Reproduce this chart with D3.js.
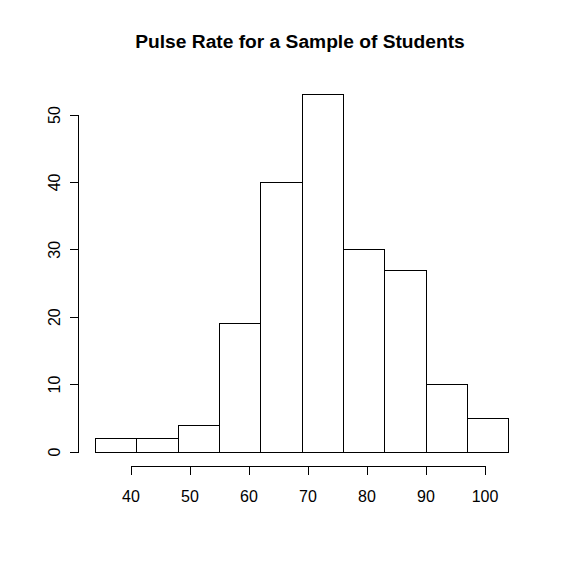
<!DOCTYPE html>
<html>
<head>
<meta charset="utf-8">
<script src="https://cdn.jsdelivr.net/npm/d3@7"></script>
<style>
  body { margin: 0; background: #fff; }
  svg { display: block; }
  text { font-family: "Liberation Sans", Arial, sans-serif; fill: #000; }
</style>
</head>
<body>
<div class="chart"></div>
<script>
// histogram bins (pulse rate, width 7) and their counts
const binEdges = [34, 41, 48, 55, 62, 69, 76, 83, 90, 97, 104];
const counts = [2, 2, 4, 19, 40, 53, 30, 27, 10, 5];
const xTicks = [40, 50, 60, 70, 80, 90, 100];
const yTicks = [0, 10, 20, 30, 40, 50];
const title = 'Pulse Rate for a Sample of Students';

const svgWidth = 565, svgHeight = 564;

const bins = counts.map((c, i) => ({ x0: binEdges[i], x1: binEdges[i + 1], n: c }));

const svg = d3.select('.chart')
    .append('svg')
    .attr('width', svgWidth)
    .attr('height', svgHeight);

const x = d3.scaleLinear().domain([40, 100]).range([130.5, 484.5]);
const y = d3.scaleLinear().domain([0, 50]).range([451.5, 114.5]);

svg.append('g')
    .selectAll('rect')
    .data(bins)
    .enter()
    .append('rect')
    .attr('x', d => Math.round(x(d.x0)) + 0.5)
    .attr('y', d => Math.round(y(d.n)) + 0.5)
    .attr('width', d => Math.round(x(d.x1)) - Math.round(x(d.x0)))
    .attr('height', d => Math.round(y(0)) - Math.round(y(d.n)))
    .attr('fill', 'none')
    .attr('stroke', '#000')
    .attr('stroke-width', 1)
    .attr('shape-rendering', 'crispEdges');

// x axis
const xAxis = svg.append('g')
    .attr('transform', 'translate(0,466)')
    .call(d3.axisBottom(x).tickValues(xTicks).tickSizeOuter(0).tickSize(9).tickPadding(16));

// y axis
const yAxis = svg.append('g')
    .attr('transform', 'translate(78,0)')
    .call(d3.axisLeft(y).tickValues(yTicks).tickSizeOuter(0).tickSize(8));

[xAxis, yAxis].forEach(g => {
    g.selectAll('path, line').attr('stroke', '#000').attr('shape-rendering', 'crispEdges');
    g.selectAll('text').style('font-size', '16px').style('font-family', '"Liberation Sans", Arial, sans-serif');
});

yAxis.selectAll('text')
    .attr('x', null).attr('dy', null)
    .attr('text-anchor', 'middle')
    .attr('transform', 'translate(-24,0) rotate(-90)')
    .attr('dy', '0.35em');

svg.append('text')
    .attr('x', 300)
    .attr('y', 48)
    .attr('text-anchor', 'middle')
    .style('font-size', '19.2px')
    .style('font-weight', 'bold')
    .text(title);
</script>
</body>
</html>
